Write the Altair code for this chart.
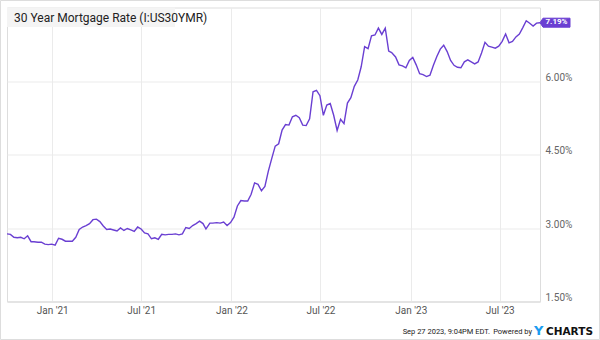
import altair as alt
import pandas as pd

# Weekly 30-year mortgage rate (%)
dates_2020 = ["2020-10-01", "2020-10-08", "2020-10-15", "2020-10-22", "2020-10-29",
              "2020-11-05", "2020-11-12", "2020-11-19", "2020-11-25", "2020-12-03",
              "2020-12-10", "2020-12-17", "2020-12-24", "2020-12-31"]
rates_2020 = [2.88, 2.87, 2.81, 2.80, 2.81, 2.78, 2.84, 2.72, 2.72, 2.71, 2.71, 2.67, 2.66, 2.67]

dates_2021 = ["2021-01-07", "2021-01-14", "2021-01-21", "2021-01-28", "2021-02-04",
              "2021-02-11", "2021-02-18", "2021-02-25", "2021-03-04", "2021-03-11",
              "2021-03-18", "2021-03-25", "2021-04-01", "2021-04-08", "2021-04-15",
              "2021-04-22", "2021-04-29", "2021-05-06", "2021-05-13", "2021-05-20",
              "2021-05-27", "2021-06-03", "2021-06-10", "2021-06-17", "2021-06-24",
              "2021-07-01", "2021-07-08", "2021-07-15", "2021-07-22", "2021-07-29",
              "2021-08-05", "2021-08-12", "2021-08-19", "2021-08-26", "2021-09-02",
              "2021-09-09", "2021-09-16", "2021-09-23", "2021-09-30", "2021-10-07",
              "2021-10-14", "2021-10-21", "2021-10-28", "2021-11-04", "2021-11-10",
              "2021-11-18", "2021-11-24", "2021-12-02", "2021-12-09", "2021-12-16",
              "2021-12-23", "2021-12-30"]
rates_2021 = [2.65, 2.79, 2.77, 2.73, 2.73, 2.73, 2.81, 2.97, 3.02, 3.05,
              3.09, 3.17, 3.18, 3.13, 3.04, 2.97, 2.98, 2.96, 2.94, 3.00,
              2.95, 2.99, 2.96, 2.93, 3.02, 2.98, 2.90, 2.88, 2.78, 2.80,
              2.77, 2.87, 2.86, 2.87, 2.87, 2.88, 2.86, 2.88, 3.01, 2.99,
              3.05, 3.09, 3.14, 3.09, 2.98, 3.10, 3.10, 3.11, 3.10, 3.12,
              3.05, 3.11]

dates_2022 = ["2022-01-06", "2022-01-13", "2022-01-20", "2022-01-27", "2022-02-03",
              "2022-02-10", "2022-02-17", "2022-02-24", "2022-03-03", "2022-03-10",
              "2022-03-17", "2022-03-24", "2022-03-31", "2022-04-07", "2022-04-14",
              "2022-04-21", "2022-04-28", "2022-05-05", "2022-05-12", "2022-05-19",
              "2022-05-26", "2022-06-02", "2022-06-09", "2022-06-16", "2022-06-23",
              "2022-06-30", "2022-07-07", "2022-07-14", "2022-07-21", "2022-07-28",
              "2022-08-04", "2022-08-11", "2022-08-18", "2022-08-25", "2022-09-01",
              "2022-09-08", "2022-09-15", "2022-09-22", "2022-09-29", "2022-10-06",
              "2022-10-13", "2022-10-20", "2022-10-27", "2022-11-03", "2022-11-10",
              "2022-11-17", "2022-11-23", "2022-12-01", "2022-12-08", "2022-12-15",
              "2022-12-22", "2022-12-29"]
rates_2022 = [3.22, 3.45, 3.56, 3.55, 3.55, 3.69, 3.92, 3.89, 3.76, 3.85,
              4.16, 4.42, 4.67, 4.72, 5.00, 5.11, 5.10, 5.27, 5.30, 5.25,
              5.10, 5.09, 5.23, 5.78, 5.81, 5.70, 5.30, 5.51, 5.54, 5.30,
              4.99, 5.22, 5.13, 5.55, 5.66, 5.89, 6.02, 6.29, 6.70, 6.66,
              6.92, 6.94, 7.08, 6.95, 7.08, 6.61, 6.58, 6.49, 6.33, 6.31,
              6.27, 6.42]

dates_2023 = ["2023-01-05", "2023-01-12", "2023-01-19", "2023-01-26", "2023-02-02",
              "2023-02-09", "2023-02-16", "2023-02-23", "2023-03-02", "2023-03-09",
              "2023-03-16", "2023-03-23", "2023-03-30", "2023-04-06", "2023-04-13",
              "2023-04-20", "2023-04-27", "2023-05-04", "2023-05-11", "2023-05-18",
              "2023-05-25", "2023-06-01", "2023-06-08", "2023-06-15", "2023-06-22",
              "2023-06-29", "2023-07-06", "2023-07-13", "2023-07-20", "2023-07-27",
              "2023-08-03", "2023-08-10", "2023-08-17", "2023-08-24", "2023-08-31",
              "2023-09-07", "2023-09-14", "2023-09-21"]
rates_2023 = [6.48, 6.33, 6.15, 6.13, 6.09, 6.12, 6.32, 6.50, 6.65, 6.73,
              6.60, 6.42, 6.32, 6.28, 6.27, 6.39, 6.43, 6.39, 6.35, 6.39,
              6.57, 6.79, 6.71, 6.69, 6.67, 6.71, 6.81, 6.96, 6.78, 6.81,
              6.90, 6.96, 7.09, 7.23, 7.18, 7.12, 7.18, 7.19]

y_ticks = [1.5, 3.0, 4.5, 6.0]
x_ticks = ["2021-01-01", "2021-07-01", "2022-01-01", "2022-07-01", "2023-01-01", "2023-07-01"]

title_text = "30 Year Mortgage Rate (I:US30YMR)"
footer_text = "Sep 27 2023, 9:04PM EDT."

df = pd.DataFrame({
    "date": dates_2020 + dates_2021 + dates_2022 + dates_2023,
    "rate": rates_2020 + rates_2021 + rates_2022 + rates_2023,
})
last = df.tail(1).copy()
last["label"] = last["rate"].map(lambda v: f"{v:.2f}%")

PURPLE = "#6a3fd2"

x_enc = alt.X("date:T",
              scale=alt.Scale(domain=["2020-10-01", "2023-09-21"]),
              axis=alt.Axis(values=x_ticks, labelExpr="timeFormat(datum.value, \"%b '%y\")",
                            title=None, grid=True, gridColor="#ebebeb", ticks=False,
                            domain=True, domainColor="#dcdcdc", labelColor="#555555",
                            labelFontSize=10, labelFont="Roboto", labelPadding=4))
y_enc = alt.Y("rate:Q",
              scale=alt.Scale(domain=[1.5, 7.5], nice=False, zero=False),
              axis=alt.Axis(orient="right", values=y_ticks,
                            labelExpr="format(datum.value, '.2f') + '%'",
                            title=None, grid=True, gridColor="#ebebeb", ticks=False,
                            domain=False, labelColor="#666666", labelFontSize=10,
                            labelFont="Roboto", labelPadding=5, labelOffset=-4))

line = alt.Chart(df).mark_line(color=PURPLE, strokeWidth=1.4).encode(x=x_enc, y=y_enc)

tag = alt.Chart(last).mark_point(
    shape="M0,0 L3,-4.5 L30,-4.5 L30,4.5 L3,4.5 Z",
    size=4, filled=True, fill=PURPLE, stroke=PURPLE, strokeWidth=1, opacity=1, clip=False
).encode(x="date:T", y="rate:Q")

tag_text = alt.Chart(last).mark_text(
    color="white", fontWeight="bold", fontSize=8, font="Roboto",
    align="center", baseline="middle", dx=16.5, dy=-0.5, clip=False
).encode(x="date:T", y="rate:Q", text="label:N")

title_df = pd.DataFrame({"t": [title_text]})
title_box = alt.Chart(title_df).mark_rect(fill="#f4f4f4").encode(
    x=alt.value(0), x2=alt.value(168), y=alt.value(0), y2=alt.value(19.5))
title_txt = alt.Chart(title_df).mark_text(
    align="left", baseline="middle", fontSize=12, font="Roboto", color="#222222"
).encode(x=alt.value(7), y=alt.value(10.5), text="t:N")

foot_df = pd.DataFrame({"t": [footer_text], "p": ["Powered by"], "y": ["Y"], "c": ["CHARTS"]})
foot1 = alt.Chart(foot_df).mark_text(
    align="right", baseline="alphabetic", fontSize=7.5, font="Roboto", color="#222222"
).encode(x=alt.value(483), y=alt.value(326.5), text="t:N")
foot2 = alt.Chart(foot_df).mark_text(
    align="right", baseline="alphabetic", fontSize=7.5, font="Roboto", color="#222222"
).encode(x=alt.value(525), y=alt.value(326.5), text="p:N")
foot3 = alt.Chart(foot_df).mark_text(
    align="left", baseline="alphabetic", fontSize=13, font="DejaVu Sans", fontWeight="bold",
    color="#1a9cf0"
).encode(x=alt.value(527), y=alt.value(327), text="y:N")
foot4 = alt.Chart(foot_df).mark_text(
    align="left", baseline="alphabetic", fontSize=10.5, font="DejaVu Sans", fontWeight="bold",
    color="#111111"
).encode(x=alt.value(539), y=alt.value(327), text="c:N")

border = alt.Chart(title_df).mark_rect(fill=None, stroke="#dddddd", strokeWidth=1, clip=False).encode(
    x=alt.value(-6.5), x2=alt.value(592.5), y=alt.value(-7), y2=alt.value(332))

chart = alt.layer(
    border, title_box, title_txt, line, tag, tag_text, foot1, foot2, foot3, foot4
).properties(
    width=533, height=294,
    autosize=alt.AutoSizeParams(type="none"),
    padding={"left": 7, "top": 7.5, "right": 60, "bottom": 38.5},
).configure_view(stroke="#e3e3e3", strokeWidth=1).configure(background="white")

chart.save("out.html", embed_options={"renderer": "svg", "actions": False})
